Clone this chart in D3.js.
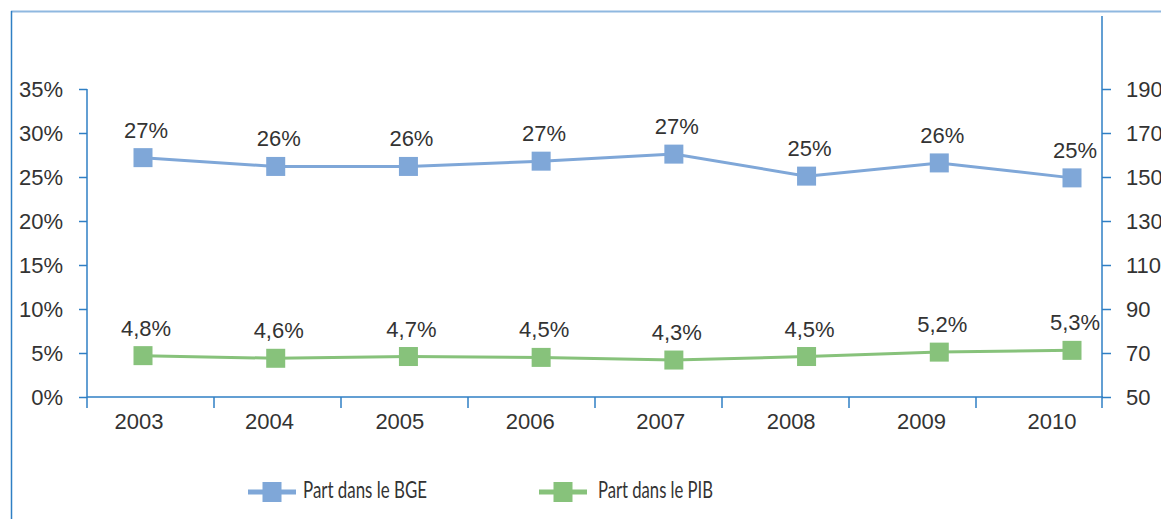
<!DOCTYPE html>
<html>
<head>
<meta charset="utf-8">
<script src="https://cdn.jsdelivr.net/npm/d3@7"></script>
<style>
  body { margin: 0; background: #fff; }
  svg { display: block; }
  text { font-family: "Liberation Sans", Arial, sans-serif; fill: #333; }
</style>
</head>
<body>
<svg width="1161" height="519"></svg>
<script>
let years = ['2003', '2004', '2005', '2006', '2007', '2008', '2009', '2010'];
let bgeValues = [27.2, 26.2, 26.2, 26.8, 27.6, 25.1, 26.6, 24.9];
let bgeLabels = ['27%', '26%', '26%', '27%', '27%', '25%', '26%', '25%'];
let pibValues = [4.7, 4.4, 4.6, 4.5, 4.2, 4.6, 5.1, 5.3];
let pibLabels = ['4,8%', '4,6%', '4,7%', '4,5%', '4,3%', '4,5%', '5,2%', '5,3%'];
let leftTicks = [0, 5, 10, 15, 20, 25, 30, 35];
let rightTicks = [50, 70, 90, 110, 130, 150, 170, 190];
let seriesNames = ['Part dans le BGE', 'Part dans le PIB'];

let blue = '#7fa7d8';
let green = '#87c27b';
let axisColor = '#2f7fc4';

let svg = d3.select('svg');

// frame
svg.append('line').attr('x1', 11).attr('x2', 1161).attr('y1', 11.5).attr('y2', 11.5)
   .attr('stroke', '#8fb8e0').attr('stroke-width', 2);
svg.append('line').attr('x1', 11.5).attr('x2', 11.5).attr('y1', 11).attr('y2', 519)
   .attr('stroke', '#2f7fc4').attr('stroke-width', 1.5);

// band scale for the axis ticks, point scales for labels and markers
let xBand = d3.scaleBand().domain(years).range([87, 1103]);
let xLabel = d3.scalePoint().domain(years).range([139, 1052]);
let xPoint = d3.scalePoint().domain(years).range([143, 1072]);

let yLeft = d3.scaleLinear().domain([0, 35]).range([397, 89]);
let yRight = d3.scaleLinear().domain([50, 190]).range([397, 89]);

// left axis
let leftAxis = d3.axisLeft(yLeft)
                 .tickValues(leftTicks)
                 .tickSize(8)
                 .tickPadding(16)
                 .tickFormat(d => d + '%');
let lg = svg.append('g').attr('transform', 'translate(87,0)').call(leftAxis);
lg.select('.domain').remove();
lg.append('line').attr('x1', 0).attr('x2', 0).attr('y1', 89).attr('y2', 408)
  .attr('stroke', axisColor).attr('stroke-width', 1.5);

// right axis
let rightAxis = d3.axisRight(yRight)
                  .tickValues(rightTicks)
                  .tickSize(9)
                  .tickPadding(15);
let rg = svg.append('g').attr('transform', 'translate(1102,0)').call(rightAxis);
rg.select('.domain').remove();
rg.selectAll('.tick text').attr('x', 24);
rg.append('line').attr('x1', 0).attr('x2', 0).attr('y1', 16).attr('y2', 408)
  .attr('stroke', axisColor).attr('stroke-width', 1.5);

[lg, rg].forEach(g => {
  g.selectAll('.tick line').attr('stroke', axisColor).attr('stroke-width', 1.5);
  g.selectAll('.tick text').style('font-size', '22px').attr('fill', '#333');
});

// x axis
let xg = svg.append('g');
xg.append('line').attr('x1', 87).attr('x2', 1103).attr('y1', 397).attr('y2', 397)
  .attr('stroke', axisColor).attr('stroke-width', 1.5);
xg.selectAll('.xtick')
  .data(years.slice(1))
  .enter().append('line')
  .attr('x1', d => xBand(d)).attr('x2', d => xBand(d))
  .attr('y1', 397).attr('y2', 408)
  .attr('stroke', axisColor).attr('stroke-width', 1.5);
xg.selectAll('.xlabel')
  .data(years)
  .enter().append('text')
  .attr('x', d => xLabel(d))
  .attr('y', 429)
  .attr('text-anchor', 'middle')
  .style('font-size', '22px')
  .text(d => d);

// series
let series = [
  { values: bgeValues, labels: bgeLabels, color: blue },
  { values: pibValues, labels: pibLabels, color: green }
];

series.forEach(s => {
  let pts = years.map((y, i) => ({ year: y, v: s.values[i], label: s.labels[i] }));

  let line = d3.line()
               .x(d => xPoint(d.year))
               .y(d => yLeft(d.v));

  svg.append('path')
     .attr('d', line(pts))
     .attr('fill', 'none')
     .attr('stroke', s.color)
     .attr('stroke-width', 3);

  svg.selectAll(null)
     .data(pts)
     .enter().append('rect')
     .attr('x', d => xPoint(d.year) - 9.5)
     .attr('y', d => yLeft(d.v) - 9.5)
     .attr('width', 19)
     .attr('height', 19)
     .attr('fill', s.color);

  svg.selectAll(null)
     .data(pts)
     .enter().append('text')
     .attr('x', d => xPoint(d.year) + 3)
     .attr('y', d => yLeft(d.v) - 20)
     .attr('text-anchor', 'middle')
     .style('font-size', '22px')
     .text(d => d.label);
});

// legend
let legendX = [272, 563];
series.forEach((s, i) => {
  let cx = legendX[i];
  let cy = 492;
  svg.append('line')
     .attr('x1', cx - 24).attr('x2', cx + 24)
     .attr('y1', cy).attr('y2', cy)
     .attr('stroke', s.color).attr('stroke-width', 5);
  svg.append('rect')
     .attr('x', cx - 9.5).attr('y', cy - 10)
     .attr('width', 19).attr('height', 20)
     .attr('fill', s.color);
  svg.append('text')
     .attr('x', i == 0 ? 303 : 598)
     .attr('y', cy + 6)
     .style('font-family', 'Lato, sans-serif')
     .style('font-size', '23px')
     .attr('textLength', i == 0 ? 124 : 115)
     .attr('lengthAdjust', 'spacingAndGlyphs')
     .text(seriesNames[i]);
});
</script>
</body>
</html>
